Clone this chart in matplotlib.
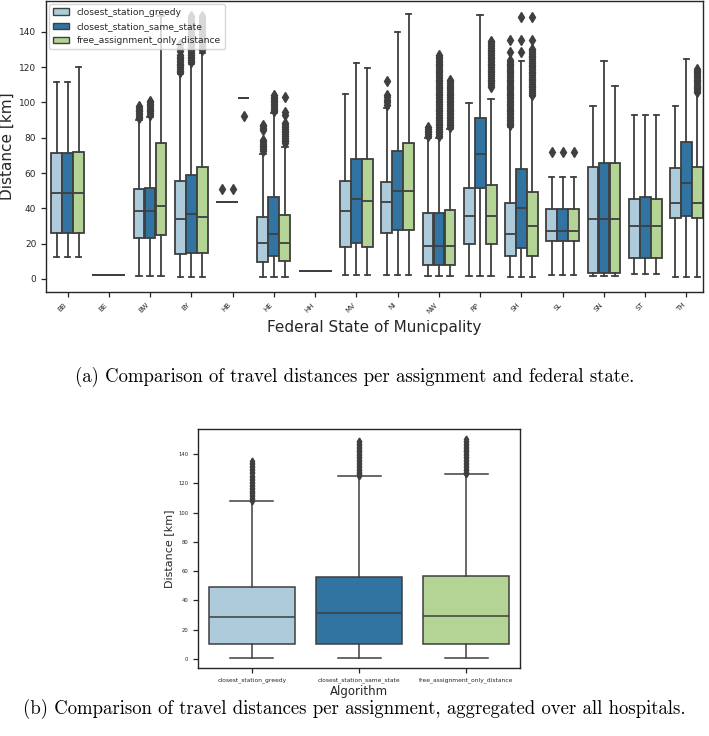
"""
Travel distance box plots per assignment algorithm and federal state
"""

import matplotlib
matplotlib.use('Agg')
import matplotlib.pyplot as plt
from matplotlib.patches import Patch
import numpy as np

# Categories
states = ['BB', 'BE', 'BW', 'BY', 'HB', 'HE', 'HH', 'MV',
          'NI', 'NW', 'RP', 'SH', 'SL', 'SN', 'ST', 'TH']
algorithms = ['closest_station_greedy', 'closest_station_same_state',
              'free_assignment_only_distance']

# --- (a) per federal state, box statistics ---
greedy_whislo = [12.7, 2.3, 1.7, 1.3, 43.4, 1.3, 4.7, 2.3, 2.1, 1.7, 1.7, 1.3, 2.1, 1.7, 2.8, 1.3]
greedy_q1 = [26.3, 2.3, 23.0, 14.0, 43.4, 9.8, 4.7, 18.3, 26.3, 7.9, 19.6, 13.0, 21.7, 3.6, 12.1, 34.4]
greedy_med = [48.9, 2.3, 38.3, 34.0, 43.4, 20.2, 4.7, 38.5, 43.8, 18.7, 35.7, 25.5, 27.4, 34.2, 30.2, 43.2]
greedy_q3 = [71.2, 2.3, 50.8, 55.5, 43.4, 35.3, 4.7, 55.5, 55.2, 37.2, 51.7, 42.9, 39.5, 63.6, 45.3, 62.7]
greedy_whishi = [111.8, 2.3, 90.0, 116.0, 43.4, 71.0, 4.7, 104.6, 97.0, 80.0, 99.5, 86.0, 58.0, 98.0, 92.9, 98.0]
greedy_fliers = [
    [], [],
    [91, 92, 93, 94, 95, 96, 97, 98],
    [117, 118, 119, 120, 121, 122, 123, 124, 125, 126, 127, 129, 131, 133],
    [51.0],
    [72.5, 73.5, 74.5, 75.5, 76.5, 77.5, 78.5, 84.5, 85.5, 86.5, 87.5],
    [], [],
    [98.6, 100.0, 101.5, 103.0, 104.2, 112.4],
    [81, 82, 83, 84, 85, 86],
    [],
    [87, 88, 89, 90, 91, 92, 93, 94, 95, 96, 97, 98, 99, 100, 101, 102,
     103, 104, 105, 106, 107, 108, 109, 110, 111, 112, 113, 114, 115, 116,
     117, 118, 119, 120, 121, 122, 123, 124, 128.8, 135.4],
    [72.1],
    [], [], [],
]

same_whislo = [12.7, 2.3, 1.7, 1.3, 43.4, 1.3, 4.7, 2.1, 2.1, 1.7, 1.7, 1.3, 2.1, 1.7, 2.8, 1.3]
same_q1 = [26.3, 2.3, 23.0, 14.9, 43.4, 13.0, 4.7, 20.2, 27.8, 7.9, 51.7, 17.8, 21.7, 3.6, 12.1, 35.7]
same_med = [48.9, 2.3, 38.7, 36.6, 43.4, 25.3, 4.7, 45.3, 49.9, 18.7, 70.8, 40.4, 27.4, 34.2, 30.2, 54.2]
same_q3 = [71.2, 2.3, 51.7, 58.9, 43.4, 46.6, 4.7, 68.0, 72.7, 37.6, 91.4, 62.1, 39.5, 65.5, 46.3, 77.4]
same_whishi = [111.8, 2.3, 92.0, 122.0, 43.4, 94.0, 4.7, 122.2, 139.8, 80.0, 149.6, 123.7, 58.0, 123.7, 92.9, 124.6]
same_fliers = [
    [], [],
    [93, 94, 95, 96, 97, 98, 99, 100, 101],
    [123, 124, 125, 126, 127, 128, 129, 130, 131, 132, 133, 134, 135, 136,
     137, 138, 139, 140, 141, 142, 143, 144, 145, 146, 147, 148, 149],
    [51.0],
    [95, 96, 97, 98, 99, 100, 101, 102, 103, 104],
    [], [], [],
    [81, 82, 83, 84, 85, 86, 87, 88, 89, 90, 91, 92, 93, 94, 95, 96, 97,
     98, 99, 100, 101, 102, 103, 104, 105, 106, 107, 108, 109, 110, 111,
     112, 113, 114, 115, 116, 117, 118, 119, 120, 121, 122, 123, 124, 125,
     126, 127],
    [],
    [128.8, 135.4, 148.3],
    [72.1],
    [], [], [],
]

free_whislo = [12.7, 2.3, 1.7, 1.3, 102.7, 1.3, 4.7, 2.1, 2.1, 1.7, 1.7, 1.3, 2.1, 1.7, 2.8, 1.3]
free_q1 = [26.3, 2.3, 24.9, 14.9, 102.7, 10.2, 4.7, 18.3, 27.8, 7.9, 19.6, 13.0, 21.7, 3.6, 12.1, 34.4]
free_med = [48.9, 2.3, 41.5, 34.9, 102.7, 20.2, 4.7, 44.2, 49.9, 18.7, 35.7, 30.2, 27.4, 34.2, 30.2, 43.2]
free_q3 = [72.1, 2.3, 76.9, 63.3, 102.7, 36.3, 4.7, 68.0, 76.9, 39.1, 53.1, 49.5, 39.5, 65.5, 45.3, 63.3]
free_whishi = [119.9, 2.3, 149.0, 128.0, 102.7, 75.0, 4.7, 119.4, 150.1, 85.0, 102.2, 103.9, 58.0, 109.3, 92.9, 105.2]
free_fliers = [
    [], [], [],
    [130, 131, 132, 133, 134, 135, 136, 137, 138, 139, 140, 141, 142, 143,
     144, 145, 146, 147, 148, 149],
    [92.5],
    [77, 78, 79, 80, 81, 82, 83, 84, 85, 86, 87, 88.5, 93.0, 94.5, 103.0],
    [], [], [],
    [86, 87, 88, 89, 90, 91, 92, 93, 94, 95, 96, 97, 98, 99, 100, 101, 102,
     103, 104, 105, 106, 107, 108, 109, 110, 111, 112, 113],
    [109, 110, 111, 112, 113, 114, 115, 116, 117, 118, 119, 120, 121, 122,
     123, 124, 125, 126, 127, 128, 129, 130, 131, 132, 133, 134, 135],
    [104.5, 105.5, 106.5, 107.5, 108.5, 109.5, 110.5, 111.5, 112.5, 113.5,
     114.5, 115.5, 116.5, 117.5, 118.5, 119.5, 120.5, 121.5, 122.5, 123.5,
     124.5, 125.5, 126.5, 127.5, 128.5, 129.5, 130.5, 135.4, 148.3],
    [72.1],
    [], [],
    [106, 107, 108, 109, 110, 111, 112, 113, 114, 115, 116, 117, 118, 119],
]

# --- (b) aggregated over all hospitals ---
total_whislo = [1.0, 1.0, 1.0]
total_q1 = [10.3, 10.6, 10.5]
total_med = [28.7, 31.3, 29.6]
total_q3 = [49.2, 56.1, 56.5]
total_whishi = [108.0, 124.8, 126.0]
total_fliers = [
    [108, 109, 110, 111, 112, 113, 114, 115, 116, 117, 118, 119, 120, 121,
     122, 123, 124, 125, 127, 128, 129, 130, 131, 132, 133, 134, 135],
    [125, 126, 127, 128, 129, 130, 131, 132, 133, 134, 135, 136, 137, 138,
     139, 140, 141, 142, 143, 144, 145, 146, 147, 148, 149],
    [126, 127, 128, 129, 130, 131, 132, 133, 134, 135, 136, 137, 138, 139,
     140, 141, 142, 143, 144, 145, 146, 147, 148, 149, 150],
]

# Paired palette, desaturated like seaborn's boxplot
COLORS = ['#aecbdb', '#3274a1', '#b3d495']
GRAY = '#3f3f3f'
TEXT = '#262626'


def build_stats(whislo, q1, med, q3, whishi, fliers):
    """Turn the read-off arrays into the dicts that Axes.bxp expects"""
    return [dict(whislo=a, q1=b, med=c, q3=d, whishi=e, fliers=np.array(f, dtype=float))
            for a, b, c, d, e, f in zip(whislo, q1, med, q3, whishi, fliers)]


def draw_boxes(ax, stats, positions, width, color, lw, fsize):
    ax.bxp(stats, positions=positions, widths=width,
           patch_artist=True, manage_ticks=False, showfliers=True,
           boxprops=dict(facecolor=color, edgecolor=GRAY, linewidth=lw),
           medianprops=dict(color=GRAY, linewidth=lw),
           whiskerprops=dict(color=GRAY, linewidth=lw),
           capprops=dict(color=GRAY, linewidth=lw),
           flierprops=dict(marker='d', markerfacecolor=GRAY,
                           markeredgecolor=GRAY, markersize=fsize))


def style_axes(ax, tick_size):
    for spine in ax.spines.values():
        spine.set_color(TEXT)
        spine.set_linewidth(1.0)
    ax.tick_params(colors=TEXT, labelsize=tick_size, length=3.5, width=0.9)


fig = plt.figure(figsize=(7.09, 7.36), dpi=100)

# ---------- (a) ----------
ax1 = fig.add_axes([0.065, 0.6033, 0.9265, 0.3953])
series = [
    build_stats(greedy_whislo, greedy_q1, greedy_med, greedy_q3, greedy_whishi, greedy_fliers),
    build_stats(same_whislo, same_q1, same_med, same_q3, same_whishi, same_fliers),
    build_stats(free_whislo, free_q1, free_med, free_q3, free_whishi, free_fliers),
]
x = np.arange(len(states))
box_w = 0.8 / len(algorithms)
for i, stats in enumerate(series):
    offset = (i - 1) * box_w
    draw_boxes(ax1, stats, x + offset, box_w * 0.98, COLORS[i], lw=1.3, fsize=4.6)

ax1.set_xlim(-0.52, 15.4)
ax1.set_ylim(-7.4, 157.5)
ax1.set_yticks(np.arange(0, 141, 20))
ax1.set_xticks(x)
ax1.set_xticklabels(states, rotation=45, ha='right', fontsize=5)
style_axes(ax1, 6.5)
ax1.tick_params(axis='x', labelsize=5)
ax1.set_ylabel('Distance [km]', fontsize=11, color=TEXT, labelpad=3)
ax1.set_xlabel('Federal State of Municpality', fontsize=11, color=TEXT, labelpad=4)

handles = [Patch(facecolor=c, edgecolor=GRAY, linewidth=1.0, label=a)
           for c, a in zip(COLORS, algorithms)]
leg = ax1.legend(handles=handles, loc='upper left', fontsize=6.6,
                 framealpha=0.8, borderaxespad=0.35, handlelength=1.8,
                 labelspacing=0.55)
for txt in leg.get_texts():
    txt.set_color(TEXT)

fig.text(0.5, 1 - 377 / 736,
         '(a) Comparison of travel distances per assignment and federal state.',
         ha='center', va='center', fontsize=13.5, family='cmr10')

# ---------- (b) ----------
ax2 = fig.add_axes([0.2793, 0.0924, 0.4542, 0.3247])
stats_total = build_stats(total_whislo, total_q1, total_med, total_q3,
                          total_whishi, total_fliers)
for i, st in enumerate(stats_total):
    draw_boxes(ax2, [st], [i], 0.8, COLORS[i], lw=1.1, fsize=3.5)

ax2.set_xlim(-0.5, 2.5)
ax2.set_ylim(-6.1, 157)
ax2.set_yticks(np.arange(0, 141, 20))
ax2.set_xticks(range(len(algorithms)))
ax2.set_xticklabels(algorithms)
style_axes(ax2, 3.8)
ax2.tick_params(axis='x', labelsize=4.3)
ax2.set_ylabel('Distance [km]', fontsize=8, color=TEXT, labelpad=3)
ax2.set_xlabel('Algorithm', fontsize=8.5, color=TEXT, labelpad=1)

fig.text(0.5, 1 - 709 / 736,
         '(b) Comparison of travel distances per assignment, aggregated over all hospitals.',
         ha='center', va='center', fontsize=13.5, family='cmr10')

fig.savefig('out.png', dpi=100)
